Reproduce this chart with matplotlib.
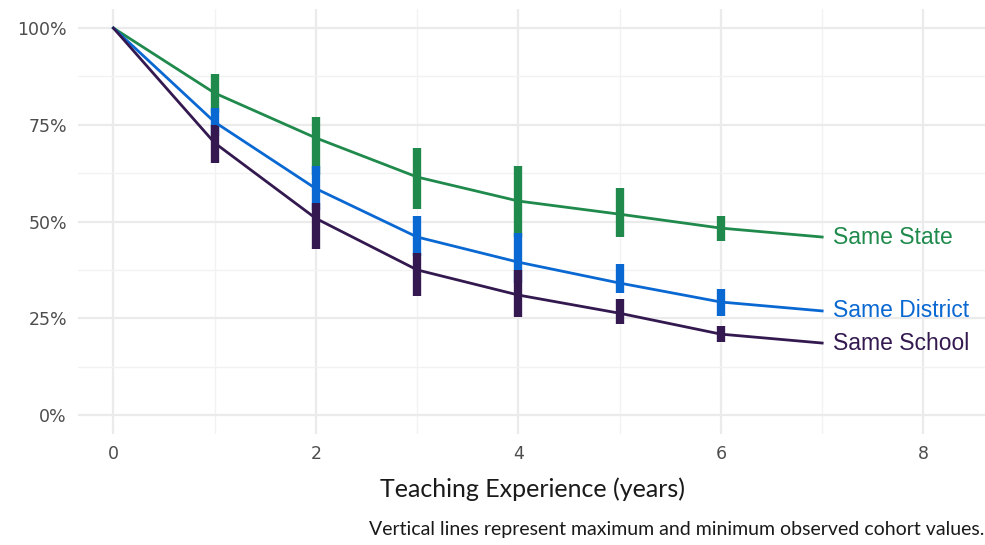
import numpy as np
import matplotlib
matplotlib.use("Agg")
import matplotlib.pyplot as plt
from matplotlib.ticker import FuncFormatter, MultipleLocator

# retention curves, share of teachers still in place (%)
years = [0, 1, 2, 3, 4, 5, 6, 7]
state_mid = [100, 83.2, 71.6, 61.5, 55.3, 51.9, 48.3, 46.0]
district_mid = [100, 75.7, 58.5, 46.0, 39.5, 34.1, 29.2, 26.9]
school_mid = [100, 70.3, 50.8, 37.5, 31.0, 26.3, 20.9, 18.6]

# max / min observed cohort values
bar_years = [1, 2, 3, 4, 5, 6]
state_max = [88.1, 77.0, 69.0, 64.3, 58.7, 51.4]
state_min = [78.0, 62.0, 53.2, 46.0, 46.0, 45.0]
district_max = [79.3, 64.3, 51.4, 47.0, 39.0, 32.6]
district_min = [72.0, 53.0, 41.0, 34.0, 31.5, 25.6]
school_max = [74.9, 54.8, 41.9, 37.5, 30.0, 23.0]
school_min = [65.1, 42.9, 30.7, 25.3, 23.5, 18.9]

labels = ["Same State", "Same District", "Same School"]
colors = ["#1f8a4c", "#0a68d2", "#33194f"]

fig = plt.figure(figsize=(9.85, 5.45), dpi=100)
ax = fig.add_axes([0.0792, 0.203, 0.922, 0.781])

# grid like theme_minimal
ax.set_xlim(-0.35, 8.62)
ax.set_ylim(-5, 105)
ax.xaxis.set_major_locator(MultipleLocator(2))
ax.xaxis.set_minor_locator(MultipleLocator(1))
ax.yaxis.set_major_locator(MultipleLocator(25))
ax.yaxis.set_minor_locator(MultipleLocator(12.5))
ax.grid(which="major", color="#ebebeb", linewidth=1.6)
ax.grid(which="minor", color="#f2f2f2", linewidth=1.0)
ax.set_axisbelow(True)
for s in ax.spines.values():
    s.set_visible(False)
ax.tick_params(which="both", length=0)
ax.tick_params(axis="both", labelsize=12.5, labelcolor="#4d4d4d", pad=8)
ax.yaxis.set_major_formatter(FuncFormatter(lambda v, p: "%d%%" % v))

series = [
    (state_mid, state_min, state_max),
    (district_mid, district_min, district_max),
    (school_mid, school_min, school_max),
]
for (mid, lo, hi), lab, c in zip(series, labels, colors):
    ax.vlines(bar_years, lo, hi, color=c, linewidth=6, zorder=3)
    ax.plot(years, mid, color=c, linewidth=2.0, zorder=4)
    ax.text(years[-1] + 0.11, mid[-1], lab, color=c, fontsize=16.5,
            family="Liberation Sans", ha="left", va="center")

ax.set_xlabel("Teaching Experience (years)", family="Lato", fontsize=18,
              color="#1a1a1a", labelpad=10)
fig.text(0.999, 0.012, "Vertical lines represent maximum and minimum observed cohort values.",
         family="Lato", fontsize=14, color="#1a1a1a", ha="right", va="bottom")

fig.savefig("out.png", dpi=100)
